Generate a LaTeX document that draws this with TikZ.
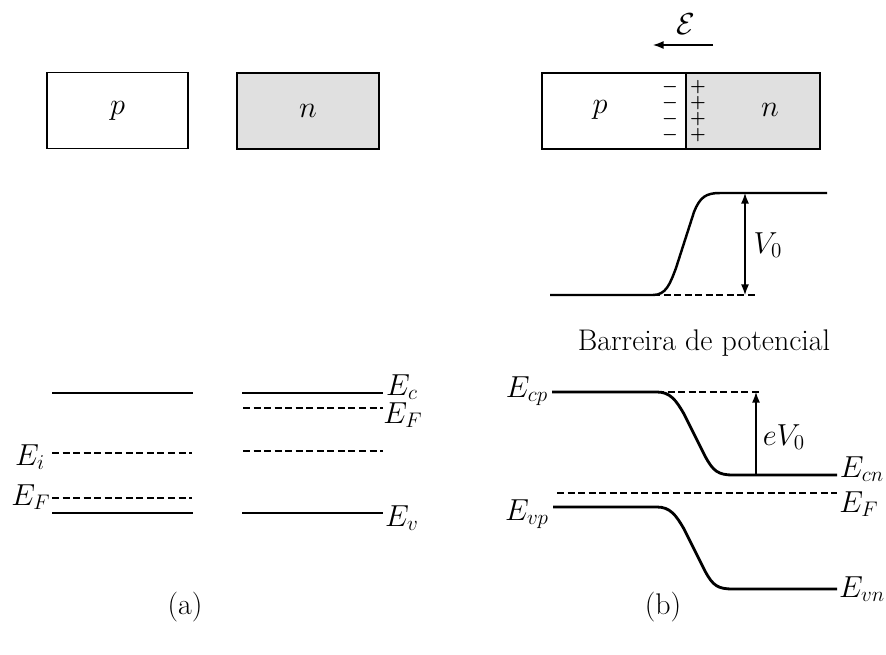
\documentclass[tikz,border=0pt]{standalone}
\usetikzlibrary{arrows.meta}
\tikzset{
  slab/.style={draw,line width=1pt,minimum width=2.82cm,minimum height=1.52cm},
  band/.style={line width=1.6pt},
  fermi/.style={line width=0.8pt,dash pattern=on 4pt off 2pt},
  tip/.style={-{Latex[length=6pt,width=4.5pt]},line width=0.7pt},
  twotip/.style={{Latex[length=6pt,width=4.5pt]}-{Latex[length=6pt,width=4.5pt]},line width=0.7pt},
  charge/.style={inner sep=0pt,font=\fontsize{10}{11}\selectfont\boldmath},
}
\begin{document}
\begin{tikzpicture}[x=0.02cm,y=-0.02cm,every node/.style={font=\fontsize{17}{20}\selectfont}]
\useasboundingbox (0,0) rectangle (886,655);
% (a) p and n apart
\node[slab] (pa) at (117.5,110.5) {$p$};
\node[slab,minimum width=2.84cm,fill=black!12] (na) at (308,111) {$n$};
\draw[band] (52,393) -- (193,393);
\draw[fermi] (52,453) -- (192,453);
\draw[fermi] (52,498) -- (192,498);
\draw[band] (52,513) -- (193,513);
\draw[band] (242,393) -- (383,393);
\draw[fermi] (243,408) -- (383,408);
\draw[fermi] (243,451) -- (383,451);
\draw[band] (242,513) -- (383,513);
\node (eia) at (30,457) {$E_i$};
\node (efa) at (31,497) {$E_F$};
\node (eca) at (402,387) {$E_c$};
\node (efna) at (403,415) {$E_F$};
\node (eva) at (402,518) {$E_v$};
\node (capa) at (185,607) {(a)};
% (b) junction
\node[slab,minimum width=2.88cm] (pb) at (614,111) {};
\node[slab,minimum width=2.68cm,fill=black!12] (nb) at (753,111) {};
\node (plbl) at (600,110) {$p$};
\node (nlbl) at (770,110) {$n$};
\foreach \y in {87,103,119,135} {
  \node[charge] at (670,\y) {$-$};
  \node[charge] at (698,\y) {$+$};
}
\coordinate (ftail) at (713,45);
\coordinate (fhead) at (653,45);
\draw[tip] (ftail) -- (fhead);
\node (field) at (686,24) {$\mathcal{E}$};
% potential barrier
\coordinate (vlow) at (758,295);
\coordinate (vtop) at (745,193);
\draw[band,line width=1.4pt] (550,295) -- (653,295)
  .. controls (666,295) and (670,284) .. (676,268) -- (694,212)
  .. controls (700,197) and (706,193) .. (720,193) -- (827,193);
\draw[fermi] (653,295) -- (vlow);
\coordinate (vbase) at (745,295);
\draw[twotip] (vbase) -- (vtop);
\node (vzero) at (768,245) {$V_0$};
\node (barrier) at (704,343) {Barreira de potencial};
% bands across the junction
\draw[band] (552,392) -- (657,392)
  .. controls (670,392) and (676,400) .. (684,414) -- (705,456)
  .. controls (713,471) and (718,475) .. (733,475) -- (837,475);
\draw[fermi] (657,392) -- (762,392);
\coordinate (ebase) at (756,475);
\coordinate (etop) at (756,392);
\draw[tip] (ebase) -- (etop);
\draw[fermi] (557,493) -- (837,493);
\draw[band] (553,507) -- (657,507)
  .. controls (670,507) and (676,515) .. (684,529) -- (705,571)
  .. controls (713,586) and (718,589) .. (733,589) -- (837,589);
\node (ecp) at (527,391) {$E_{cp}$};
\node (evp) at (527,514) {$E_{vp}$};
\node (ecn) at (862,469) {$E_{cn}$};
\node (efb) at (859,504) {$E_F$};
\node (evn) at (862,589) {$E_{vn}$};
\node (evzero) at (784,437) {$eV_0$};
\node (capb) at (663,607) {(b)};
\end{tikzpicture}
\end{document}
